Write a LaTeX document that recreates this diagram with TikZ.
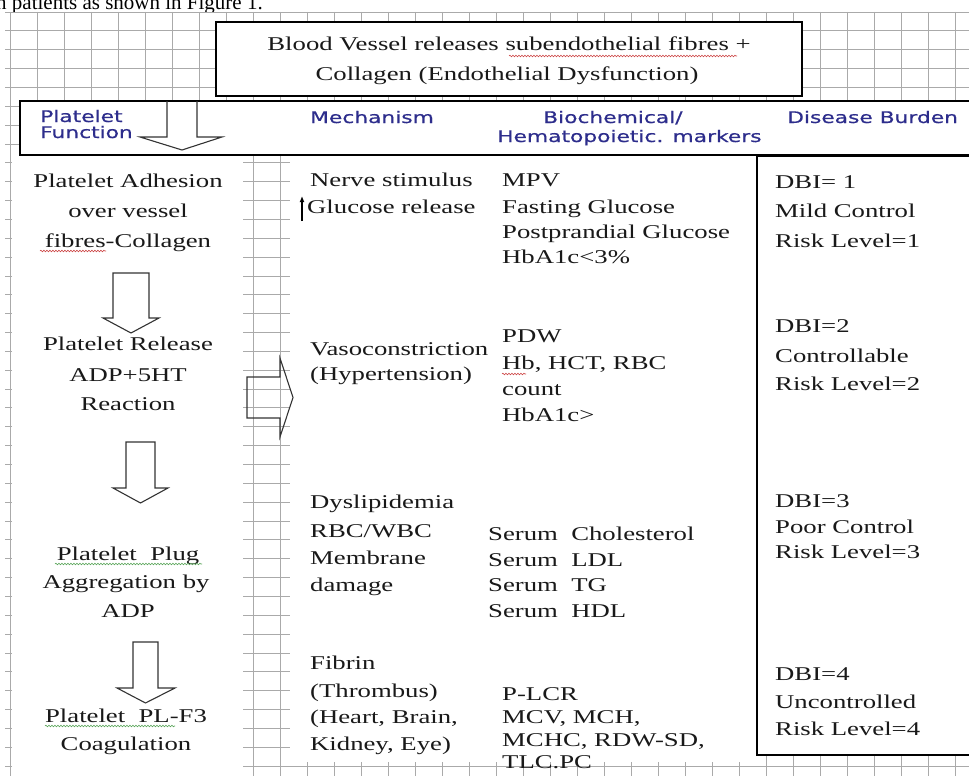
\documentclass[tikz,border=0pt]{standalone}
\usepackage{fontspec}
\setmainfont[FakeStretch=1.37]{Liberation Serif}
\newfontfamily\hdrfont[FakeStretch=1.36,FakeBold=0.6]{DejaVu Sans}
\newfontfamily\plainserif{Liberation Serif}
\usetikzlibrary{decorations.pathmorphing,arrows.meta}
\definecolor{gridgray}{RGB}{170,170,170}
\definecolor{hdrblue}{RGB}{45,45,140}
\definecolor{wavyred}{RGB}{205,70,70}
\definecolor{wavygreen}{RGB}{90,165,90}
\begin{document}
\begin{tikzpicture}[x=1pt,y=-1pt,
  txt/.style={inner sep=0pt, font=\fontsize{19.5}{23}\selectfont, text=black!90},
  lt/.style={txt, anchor=base west},
  ct/.style={txt, anchor=base},
  hdr/.style={inner sep=0pt, anchor=base west, font=\hdrfont\fontsize{16}{18}\selectfont, text=hdrblue},
  blockarrow/.style={draw=black!80, line width=1.1pt, line join=miter},
  framebox/.style={draw=black, line width=1.8pt, fill=white},
  gridline/.style={draw=gridgray, line width=0.8pt},
  wavy/.style={decorate, decoration={snake, amplitude=0.8pt, segment length=3pt}, line width=0.6pt}]
\useasboundingbox (0,0) rectangle (969,776);
\fill[white] (0,0) rectangle (969,776);
% grid paper
\foreach \k in {0,...,35} \draw[gridline] ({10+27*\k},12) -- ({10+27*\k},776);
\foreach \k in {0,...,40} \draw[gridline] (5,{12+18.85*\k}) -- (969,{12+18.85*\k});
% white columns
\fill[white] (12,155) rectangle (243,776);
\fill[white] (290,155) rectangle (757,762);
% clipped running text at the top
\begin{scope}
\clip (0,0) rectangle (969,12);
\node[anchor=base west, inner sep=0pt, font=\plainserif\fontsize{21}{24}\selectfont] (intro) at (-4,10) {n patients as shown in Figure 1.};
\end{scope}
% boxes
\draw[framebox, line width=1.5pt] (216,22) rectangle (802,96);
\draw[framebox] (20,101) rectangle (985,155);
\draw[framebox] (757,156) rectangle (985,755);
% top box text
\node[ct] (top1) at (509,51) {Blood Vessel releases subendothelial fibres +};
\node[ct] (top2) at (507,81) {Collagen (Endothelial Dysfunction)};
% headers
\node[hdr] (h1a) at (40,122) {Platelet};
\node[hdr] (h1b) at (40,138) {Function};
\node[hdr] (h2) at (310,123) {Mechanism};
\node[hdr] (h3a) at (543,123) {Biochemical/};
\node[hdr] (h3b) at (497,142) {Hematopoietic. markers};
\node[hdr] (h4) at (787,123) {Disease Burden};
% header arrow
\draw[blockarrow] (167,101) -- (167,137) -- (140,137) -- (182,150) -- (222,137) -- (197,137) -- (197,101);
% left column
\node[ct] (pf1) at (128,187) {Platelet Adhesion};
\node[ct] (pf2) at (128,217) {over vessel};
\node[ct] (pf3) at (128,247) {fibres-Collagen};
\node[ct] (pf4) at (128,350) {Platelet Release};
\node[ct] (pf5) at (128,381) {ADP+5HT};
\node[ct] (pf6) at (128,410) {Reaction};
\node[ct] (pf7) at (128,560) {Platelet\ \ Plug};
\node[ct] (pf8) at (126,588) {Aggregation by};
\node[ct] (pf9) at (128,617) {ADP};
\node[ct] (pf10) at (126,722) {Platelet\ \ PL-F3};
\node[ct] (pf11) at (126,750) {Coagulation};
% down arrows in the left column
\draw[blockarrow] (113,273) -- (149,273) -- (149,318) -- (159,318) -- (131,333) -- (103,318) -- (113,318) -- cycle;
\draw[blockarrow] (126,442) -- (155,442) -- (155,488) -- (168,488) -- (140.5,503) -- (113,488) -- (126,488) -- cycle;
\draw[blockarrow] (133,642) -- (158,642) -- (158,688) -- (175,688) -- (145.5,703) -- (117,688) -- (133,688) -- cycle;
% right arrow
\draw[blockarrow] (247,377) -- (280,377) -- (280,358) -- (293,397.5) -- (280,437) -- (280,418) -- (247,418) -- cycle;
% mechanism column
\node[lt] (m1) at (310,186) {Nerve stimulus};
\node[lt] (m2) at (307,213) {Glucose release};
\draw[-{Latex[length=6pt,width=5pt]}, line width=1.2pt] (302,221) -- (302,196);
\node[lt] (m3) at (310,355) {Vasoconstriction};
\node[lt] (m4) at (310,380) {(Hypertension)};
\node[lt] (m5) at (310,508) {Dyslipidemia};
\node[lt] (m6) at (310,537) {RBC/WBC};
\node[lt] (m7) at (310,564) {Membrane};
\node[lt] (m8) at (310,591) {damage};
\node[lt] (m9) at (310,669) {Fibrin};
\node[lt] (m10) at (310,697) {(Thrombus)};
\node[lt] (m11) at (310,723) {(Heart, Brain,};
\node[lt] (m12) at (310,750) {Kidney, Eye)};
% biochemical column
\node[lt] (b1) at (502,186) {MPV};
\node[lt] (b2) at (502,213) {Fasting Glucose};
\node[lt] (b3) at (502,238) {Postprandial Glucose};
\node[lt] (b4) at (502,263) {HbA1c<3\%};
\node[lt] (b5) at (502,342) {PDW};
\node[lt] (b6) at (502,369) {Hb, HCT, RBC};
\node[lt] (b7) at (502,395) {count};
\node[lt] (b8) at (502,421) {HbA1c>};
\node[lt] (b9) at (488,540) {Serum\ \ Cholesterol};
\node[lt] (b10) at (488,566) {Serum\ \ LDL};
\node[lt] (b11) at (488,591) {Serum\ \ TG};
\node[lt] (b12) at (488,617) {Serum\ \ HDL};
\node[lt] (b13) at (502,700) {P-LCR};
\node[lt] (b14) at (502,723) {MCV, MCH,};
\node[lt] (b15) at (502,746) {MCHC, RDW-SD,};
\node[lt] (b16) at (502,768) {TLC.PC};
% disease burden column
\node[lt] (d1) at (775,188) {DBI= 1};
\node[lt] (d2) at (775,217) {Mild Control};
\node[lt] (d3) at (775,247) {Risk Level=1};
\node[lt] (d4) at (775,332) {DBI=2};
\node[lt] (d5) at (775,362) {Controllable};
\node[lt] (d6) at (775,390) {Risk Level=2};
\node[lt] (d7) at (775,507) {DBI=3};
\node[lt] (d8) at (775,533) {Poor Control};
\node[lt] (d9) at (775,558) {Risk Level=3};
\node[lt] (d10) at (775,680) {DBI=4};
\node[lt] (d11) at (775,708) {Uncontrolled};
\node[lt] (d12) at (775,735) {Risk Level=4};
% spell-check underlines
\draw[wavy, wavyred] (509,56) -- (737,56);
\draw[wavy, wavyred] (40,251) -- (106,251);
\draw[wavy, wavyred] (502,374) -- (526,374);
\draw[wavy, wavygreen] (55,564) -- (202,564);
\draw[wavy, wavygreen] (45,726) -- (175,726);
\end{tikzpicture}
\end{document}
